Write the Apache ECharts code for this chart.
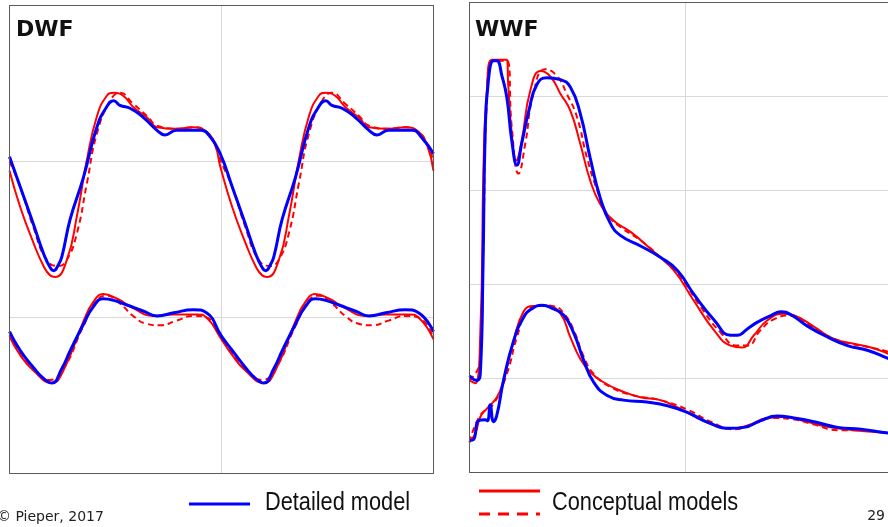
<!DOCTYPE html>
<html>
<head>
<meta charset="utf-8">
<title>DWF / WWF</title>
<script src="https://cdn.jsdelivr.net/npm/echarts@6/dist/echarts.min.js"></script>
<style>
  html, body { margin: 0; padding: 0; background: #fff; }
  #chart { width: 888px; height: 527px; }
</style>
</head>
<body>
<div id="chart"></div>
<script>
// x = hour of the (two-day) simulation, y = relative value
var panelTitles = ['DWF', 'WWF'];
var legendNames = ['Detailed model', 'Conceptual models'];

// DWF, upper group
var dwfHiDetailed = [
  [0, 2.03], [1.2, 1.84], [2.7, 1.60], [3.85, 1.41], [4.6, 1.32], [5.0, 1.30], [5.55, 1.34], [5.93, 1.39],
  [6.87, 1.63], [8.38, 1.90], [9.89, 2.22], [11.0, 2.35], [11.8, 2.39], [12.5, 2.36], [13.7, 2.34],
  [15.2, 2.28], [16.7, 2.20], [17.6, 2.17], [18.9, 2.20], [21.6, 2.20], [22.7, 2.16], [23.85, 2.05],
  [25.2, 1.84], [26.7, 1.60], [27.85, 1.41], [28.6, 1.32], [29.0, 1.30], [29.55, 1.34], [29.93, 1.39],
  [30.87, 1.63], [32.38, 1.90], [33.89, 2.22], [35.0, 2.35], [35.8, 2.39], [36.5, 2.36], [37.7, 2.34],
  [39.2, 2.28], [40.7, 2.20], [41.6, 2.17], [42.9, 2.20], [45.6, 2.20], [46.7, 2.15], [48, 2.05]
];
var dwfHiConceptual = [
  [0, 1.94], [1.2, 1.71], [2.7, 1.48], [3.85, 1.33], [4.6, 1.27], [5.17, 1.26], [6.5, 1.37], [7.63, 1.65],
  [8.76, 2.01], [9.9, 2.29], [11.0, 2.42], [11.8, 2.44], [12.9, 2.42], [14.0, 2.35], [15.6, 2.28],
  [16.7, 2.22], [18.95, 2.21], [20.8, 2.22], [22.3, 2.19], [23.3, 2.10], [23.85, 1.97],
  [25.2, 1.71], [26.7, 1.48], [27.85, 1.33], [28.6, 1.27], [29.17, 1.26], [30.5, 1.37], [31.63, 1.65],
  [32.76, 2.01], [33.9, 2.29], [35.0, 2.42], [35.8, 2.44], [36.9, 2.42], [38.0, 2.35], [39.6, 2.28],
  [40.7, 2.22], [42.95, 2.21], [44.8, 2.22], [46.3, 2.19], [47.3, 2.10], [48, 1.94]
];
var dwfHiConceptualAlt = [
  [0, 2.00], [1.2, 1.84], [2.7, 1.58], [4.2, 1.37], [5.55, 1.33], [6.5, 1.37], [7.63, 1.54], [8.76, 1.86],
  [9.9, 2.18], [11.4, 2.39], [12.5, 2.44], [14.0, 2.37], [15.6, 2.29], [16.7, 2.23], [18.95, 2.21],
  [20.8, 2.22], [22.3, 2.19], [23.3, 2.11], [23.95, 2.00],
  [25.2, 1.84], [26.7, 1.58], [28.2, 1.37], [29.55, 1.33], [30.5, 1.37], [31.63, 1.54], [32.76, 1.86],
  [33.9, 2.18], [35.4, 2.39], [36.5, 2.44], [38.0, 2.37], [39.6, 2.29], [40.7, 2.23], [42.95, 2.21],
  [44.8, 2.22], [46.3, 2.19], [47.3, 2.11], [48, 2.00]
];

// DWF, lower group
var dwfLoDetailed = [
  [0, 0.91], [1.2, 0.79], [2.7, 0.68], [3.85, 0.61], [4.8, 0.58], [5.9, 0.67], [6.9, 0.79], [8.4, 0.96],
  [9.5, 1.07], [10.6, 1.12], [11.8, 1.11], [13.3, 1.08], [15.2, 1.04], [16.7, 1.01], [18.6, 1.03],
  [20.8, 1.05], [22.3, 1.03], [24.0, 0.88],
  [25.2, 0.79], [26.7, 0.68], [27.85, 0.61], [28.8, 0.58], [29.9, 0.67], [30.9, 0.79], [32.4, 0.96],
  [33.5, 1.07], [34.6, 1.12], [35.8, 1.11], [37.3, 1.08], [39.2, 1.04], [40.7, 1.01], [42.6, 1.03],
  [44.8, 1.05], [46.3, 1.03], [48, 0.91]
];
var dwfLoConceptual = [
  [0, 0.88], [1.2, 0.76], [2.7, 0.66], [4.8, 0.58], [6.1, 0.66], [8.4, 0.98], [9.5, 1.10], [10.6, 1.15],
  [12.2, 1.12], [14.0, 1.06], [16.3, 1.01], [18.6, 1.02], [21.2, 1.02], [22.3, 1.00], [24.0, 0.86],
  [25.2, 0.76], [26.7, 0.66], [28.8, 0.58], [30.1, 0.66], [32.4, 0.98], [33.5, 1.10], [34.6, 1.15],
  [36.2, 1.12], [38.0, 1.06], [40.3, 1.01], [42.6, 1.02], [45.2, 1.02], [46.3, 1.00], [48, 0.86]
];
var dwfLoConceptualAlt = [
  [0, 0.89], [2.7, 0.67], [4.6, 0.60], [6.1, 0.67], [8.4, 0.95], [9.9, 1.11], [11.0, 1.14], [12.5, 1.09],
  [14.0, 1.01], [15.5, 0.96], [17.1, 0.95], [18.9, 0.98], [20.8, 1.01], [22.3, 1.00], [24.0, 0.87],
  [26.7, 0.67], [28.6, 0.60], [30.1, 0.67], [32.4, 0.95], [33.9, 1.11], [35.0, 1.14], [36.5, 1.09],
  [38.0, 1.01], [39.5, 0.96], [41.1, 0.95], [42.9, 0.98], [44.8, 1.01], [46.3, 1.00], [48, 0.87]
];

// WWF, upper group
var wwfHiDetailed = [
  [0, 1.03], [0.8, 0.98], [1.2, 1.05], [1.5, 2.18], [1.74, 3.60], [2.1, 4.17], [2.67, 4.38], [3.04, 4.38],
  [3.6, 4.22], [4.15, 3.99], [4.7, 3.53], [5.27, 3.27], [5.8, 3.50], [6.6, 3.85], [7.5, 4.13], [8.6, 4.20],
  [10.1, 4.18], [11.2, 4.10], [12.3, 3.82], [13.4, 3.35], [14.5, 2.93], [15.65, 2.65], [16.8, 2.52],
  [19.0, 2.41], [21.2, 2.29], [23.1, 2.15], [24.9, 1.90], [27.2, 1.62], [29.0, 1.46], [29.75, 1.46],
  [30.9, 1.53], [32.0, 1.60], [33.5, 1.67], [34.6, 1.71], [35.7, 1.68], [37.5, 1.56], [39.8, 1.44],
  [42.0, 1.35], [44.2, 1.30], [46.6, 1.21], [48, 1.16]
];
var wwfHiConceptual = [
  [0, 0.98], [0.63, 0.95], [1.2, 1.48], [1.56, 3.25], [1.93, 4.06], [2.5, 4.39], [4.15, 4.39], [4.3, 4.13],
  [4.7, 3.60], [5.2, 3.32], [5.8, 3.53], [6.75, 4.06], [7.9, 4.27], [9.0, 4.21], [10.1, 4.03], [11.2, 3.85],
  [12.3, 3.50], [13.4, 3.11], [14.5, 2.86], [16.0, 2.68], [17.9, 2.56], [20.1, 2.38], [22.7, 2.15],
  [24.9, 1.83], [27.2, 1.51], [29.0, 1.35], [30.3, 1.33], [31.6, 1.46], [33.1, 1.62], [34.9, 1.69],
  [36.1, 1.67], [38.3, 1.55], [40.5, 1.42], [42.7, 1.37], [44.6, 1.33], [46.6, 1.26], [48, 1.20]
];
var wwfHiConceptualAlt = [
  [0, 0.98], [1.2, 1.19], [1.56, 2.54], [1.93, 3.96], [2.5, 4.38], [4.15, 4.38], [4.7, 3.67], [5.45, 3.18],
  [6.2, 3.50], [7.1, 4.03], [8.4, 4.29], [9.7, 4.22], [10.8, 4.03], [11.95, 3.78], [13.05, 3.35],
  [14.2, 3.00], [15.3, 2.75], [16.8, 2.61], [19.0, 2.47], [21.2, 2.29], [23.4, 2.08], [25.7, 1.76],
  [27.9, 1.49], [29.75, 1.35], [30.9, 1.35], [32.3, 1.51], [33.8, 1.63], [35.7, 1.67], [37.9, 1.56],
  [40.1, 1.44], [42.4, 1.37], [44.6, 1.33], [46.6, 1.28], [48, 1.22]
];

// WWF, lower group
var wwfLoDetailed = [
  [0, 0.34], [0.45, 0.35], [1.0, 0.55], [1.74, 0.56], [2.0, 0.55], [2.3, 0.72], [2.67, 0.54], [3.04, 0.61],
  [3.78, 0.98], [4.9, 1.40], [6.0, 1.65], [6.9, 1.74], [8.05, 1.78], [9.35, 1.74], [10.5, 1.67],
  [11.6, 1.48], [12.7, 1.19], [13.8, 0.96], [15.3, 0.82], [17.1, 0.77], [19.7, 0.75], [22.0, 0.71],
  [24.2, 0.64], [26.8, 0.52], [29.0, 0.47], [30.5, 0.48], [32.3, 0.55], [34.2, 0.60], [36.05, 0.58],
  [38.3, 0.54], [40.9, 0.48], [43.5, 0.46], [46.6, 0.42], [48, 0.41]
];
var wwfLoConceptual = [
  [0, 0.33], [0.63, 0.41], [1.2, 0.59], [1.93, 0.68], [3.04, 0.80], [3.78, 0.98], [4.9, 1.40], [6.0, 1.71],
  [7.1, 1.77], [8.6, 1.77], [10.1, 1.69], [11.2, 1.44], [12.3, 1.21], [13.4, 1.07], [14.9, 0.96],
  [16.8, 0.87], [19.0, 0.80], [21.2, 0.77], [23.4, 0.68], [26.0, 0.55], [29.0, 0.47], [30.9, 0.50],
  [33.1, 0.58], [34.9, 0.59], [37.5, 0.54], [40.1, 0.48], [42.7, 0.45], [46.6, 0.42], [48, 0.41]
];
var wwfLoConceptualAlt = [
  [0, 0.32], [1.2, 0.61], [2.67, 0.73], [4.15, 1.05], [5.27, 1.44], [6.4, 1.71], [7.9, 1.78], [9.35, 1.77],
  [10.5, 1.69], [11.6, 1.51], [12.7, 1.23], [13.8, 1.05], [15.65, 0.91], [18.25, 0.82], [21.2, 0.77],
  [24.2, 0.67], [26.8, 0.54], [29.4, 0.46], [31.6, 0.52], [33.8, 0.58], [35.7, 0.57], [38.3, 0.51],
  [40.9, 0.45], [43.5, 0.45], [46.6, 0.42], [48, 0.41]
];

var BLUE = '#0000ff';
var RED = '#ff0000';

function makeLine(data, panel, kind) {
  var style = { width: 2, color: RED, type: 'solid' };
  if (kind === 'detailed') style = { width: 3, color: BLUE, type: 'solid' };
  if (kind === 'alt') style = { width: 2, color: RED, type: [6, 4] };
  return {
    type: 'line',
    xAxisIndex: panel,
    yAxisIndex: panel,
    data: data,
    smooth: 0.5,
    showSymbol: false,
    lineStyle: style,
    z: kind === 'detailed' ? 4 : 3,
    silent: true
  };
}

var gridLine = { show: true, showMinLine: false, showMaxLine: false, lineStyle: { color: '#d9d9d9', width: 1 } };

function xAxisFor(i) {
  return {
    type: 'value', gridIndex: i, min: 0, max: 48, interval: 24,
    axisLine: { show: false }, axisTick: { show: false }, axisLabel: { show: false },
    splitLine: gridLine
  };
}
function yAxisFor(i, max) {
  return {
    type: 'value', gridIndex: i, min: 0, max: max, interval: 1,
    axisLine: { show: false }, axisTick: { show: false }, axisLabel: { show: false },
    splitLine: gridLine
  };
}

var chart = echarts.init(document.getElementById('chart'));

var option = {
  animation: false,
  backgroundColor: '#fff',
  title: [
    { text: panelTitles[0], left: 16, top: 19, padding: 0,
      textStyle: { fontFamily: 'DejaVu Sans', fontWeight: 'bold', fontSize: 22, color: '#111' } },
    { text: panelTitles[1], left: 475, top: 19, padding: 0,
      textStyle: { fontFamily: 'DejaVu Sans', fontWeight: 'bold', fontSize: 22, color: '#111' } }
  ],
  grid: [
    { left: 9.5, top: 5.5, width: 424, height: 468, outerBoundsMode: 'none',
      show: true, borderColor: '#5a5a5a', borderWidth: 1 },
    { left: 469.5, top: 2.5, width: 432, height: 470, outerBoundsMode: 'none',
      show: true, borderColor: '#5a5a5a', borderWidth: 1 }
  ],
  xAxis: [xAxisFor(0), xAxisFor(1)],
  yAxis: [yAxisFor(0, 3), yAxisFor(1, 5)],
  series: [
    makeLine(dwfHiConceptualAlt, 0, 'alt'),
    makeLine(dwfHiConceptual, 0, 'conceptual'),
    makeLine(dwfHiDetailed, 0, 'detailed'),
    makeLine(dwfLoConceptualAlt, 0, 'alt'),
    makeLine(dwfLoConceptual, 0, 'conceptual'),
    makeLine(dwfLoDetailed, 0, 'detailed'),
    makeLine(wwfHiConceptualAlt, 1, 'alt'),
    makeLine(wwfHiConceptual, 1, 'conceptual'),
    makeLine(wwfHiDetailed, 1, 'detailed'),
    makeLine(wwfLoConceptualAlt, 1, 'alt'),
    makeLine(wwfLoConceptual, 1, 'conceptual'),
    makeLine(wwfLoDetailed, 1, 'detailed')
  ],
  // legend drawn by hand: one entry carries both a solid and a dashed key
  graphic: [
    { type: 'rect', z: 10, silent: true, shape: { x: 9.5, y: 5.5, width: 424, height: 468 },
      style: { fill: null, stroke: '#5a5a5a', lineWidth: 1 } },
    { type: 'rect', z: 10, silent: true, shape: { x: 469.5, y: 2.5, width: 432, height: 470 },
      style: { fill: null, stroke: '#5a5a5a', lineWidth: 1 } },
    { type: 'line', shape: { x1: 189, y1: 504, x2: 250, y2: 504 }, style: { stroke: BLUE, lineWidth: 3 } },
    { type: 'text', x: 265, y: 503, scaleX: 0.87,
      style: { text: legendNames[0], font: '25px "Liberation Sans"', fill: '#111', verticalAlign: 'middle' } },
    { type: 'line', shape: { x1: 479, y1: 491, x2: 540, y2: 491 }, style: { stroke: RED, lineWidth: 3 } },
    { type: 'line', shape: { x1: 479, y1: 514, x2: 540, y2: 514 }, style: { stroke: RED, lineWidth: 3, lineDash: [11, 8] } },
    { type: 'text', x: 552, y: 503.5, scaleX: 0.87,
      style: { text: legendNames[1], font: '25px "Liberation Sans"', fill: '#111', verticalAlign: 'middle' } },
    { type: 'text', x: -3, y: 517,
      style: { text: '\u00a9 Pieper, 2017', font: '14px "DejaVu Sans"', fill: '#222', verticalAlign: 'middle' } },
    { type: 'text', x: 885, y: 516,
      style: { text: '29', font: '14px "DejaVu Sans"', fill: '#222', align: 'right', verticalAlign: 'middle' } }
  ]
};

chart.setOption(option);
</script>
</body>
</html>
